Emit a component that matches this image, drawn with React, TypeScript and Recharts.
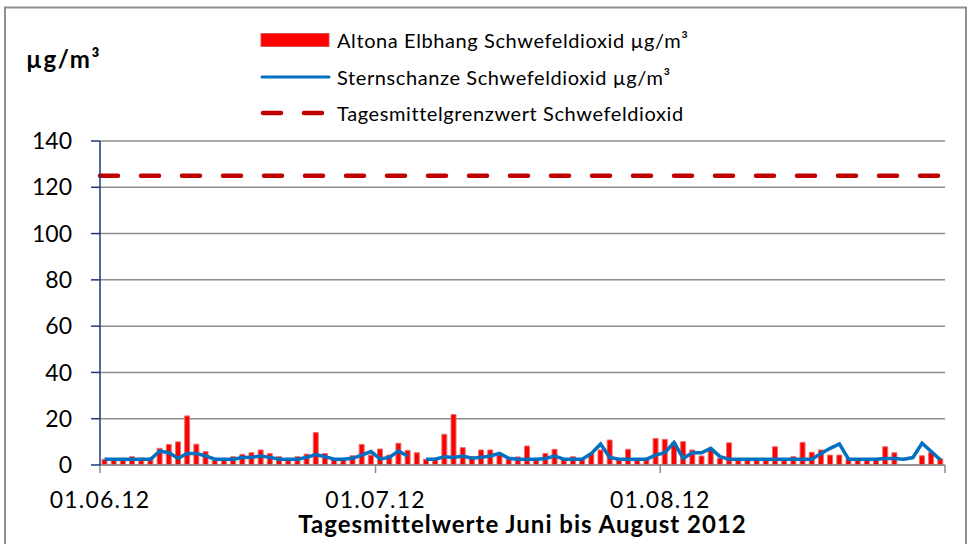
import React from "react";
import {
  ComposedChart,
  Bar,
  Line,
  XAxis,
  YAxis,
  CartesianGrid,
  ReferenceLine,
} from "recharts";

// Day index 0 = 01.06.2012 ... 91 = 31.08.2012
const altonaElbhang: (number | null)[] = [
  2.5, 2, 2, 3.6, 3, 3, 7.2, 8.9, 10, 21.2,
  9, 5.8, 2, 2, 3.6, 4.6, 5.3, 6.5, 5, 3.6,
  2, 3.6, 4.7, 14, 5, 2.5, 2.5, 4, 8.9, 4.3,
  6.9, 4.3, 9.4, 6.3, 5.3, 2.5, 2.5, 13.3, 21.8, 7.5,
  3.6, 6.5, 6.5, 4.3, 2.5, 3.5, 8.2, 2.5, 5, 6.8,
  2.5, 3.6, 2.5, 5, 6.5, 10.8, 2.5, 6.8, 2.5, 2.5,
  11.5, 11.1, 9.7, 10.1, 6.5, 3.9, 7.2, 2.9, 9.6, 2.5,
  2.5, 2.5, 2.5, 7.9, 2.5, 3.6, 9.8, 5.5, 6.5, 4.3,
  4.3, 2.5, 2.5, 2.5, 2.5, 7.9, 5.3, null, null, 4,
  5.4, 2.7,
];

const sternschanze: (number | null)[] = [
  2.5, 2.5, 2.5, 2.5, 2.5, 2.5, 6, 5.3, 2.9, 5,
  5, 3.9, 2.5, 2.5, 2.5, 3.2, 3.3, 3.9, 3.3, 2.5,
  2.5, 2.5, 3.3, 4.5, 3.6, 2.5, 2.5, 2.9, 4.3, 5.8,
  2.6, 3.3, 6, 3.9, null, 2.5, 2.5, 3.6, 3.2, 3.9,
  2.9, 3.3, 3.9, 5, 2.9, 2.5, 2.5, 2.5, 2.8, 3.9,
  2.5, 2.5, 2.5, 5, 9.1, 3.3, 2.5, 2.5, 2.5, 2.5,
  4.3, 5.3, 9.7, 2.9, 5.3, 5.3, 7.2, 3.6, 2.5, 2.5,
  2.5, 2.5, 2.5, 2.5, 2.5, 2.5, 2.5, 2.5, 5, 7.2,
  9.1, 2.5, 2.5, 2.5, 2.5, 2.8, 2.8, 2.5, 3.2, 9.4,
  5.8, 2.2,
];

const limitValue = 125;

const xTickPositions = [0, 30, 61, 92];
const xTickLabels = ["01.06.12", "01.07.12", "01.08.12", ""];
const yTicks = [0, 20, 40, 60, 80, 100, 120, 140];

const seriesNames = [
  "Altona Elbhang Schwefeldioxid µg/m³",
  "Sternschanze Schwefeldioxid µg/m³",
  "Tagesmittelgrenzwert Schwefeldioxid",
];

const data = altonaElbhang.map((v, i) => ({
  day: i + 0.5,
  altona: v,
  stern: sternschanze[i],
}));

const FONT = "Lato, 'Open Sans', sans-serif";
const GRID = "#8c8c8c";
const NAVY = "#1f3580";
const RED = "#ff0000";
const BLUE = "#0070c0";
const DARKRED = "#c00000";

export default function App() {
  return (
    <div
      style={{
        position: "absolute",
        left: 0,
        top: 0,
        width: 969,
        height: 544,
        overflow: "hidden",
        background: "#fff",
        fontFamily: FONT,
      }}
    >
      <div style={{ position: "absolute", left: 0, top: 0 }}>
        <ComposedChart
          width={969}
          height={544}
          data={data}
          margin={{ top: 141, right: 24, bottom: 49, left: 0 }}
        >
          <CartesianGrid
            horizontal
            vertical={false}
            stroke={GRID}
            strokeWidth={1.5}
          />
          <XAxis
            dataKey="day"
            type="number"
            domain={[0, 92]}
            ticks={xTickPositions}
            tickFormatter={(v: number) => xTickLabels[xTickPositions.indexOf(v)] ?? ""}
            interval={0}
            height={30}
            axisLine={{ stroke: GRID, strokeWidth: 1.5 }}
            tickLine={{ stroke: GRID, strokeWidth: 1.5 }}
            tickSize={8}
            tickMargin={19}
            tick={{ fill: "#000", fontSize: 23, fontFamily: FONT, letterSpacing: 1.2 }}
            allowDataOverflow
          />
          <YAxis
            type="number"
            domain={[0, 140]}
            ticks={yTicks}
            interval={0}
            width={100}
            axisLine={{ stroke: NAVY, strokeWidth: 1.5 }}
            tickLine={{ stroke: NAVY, strokeWidth: 1.5 }}
            tickSize={9}
            tickMargin={19}
            tick={{ fill: "#000", fontSize: 23, fontFamily: FONT }}
          />
          <ReferenceLine
            y={limitValue}
            stroke={DARKRED}
            strokeWidth={4.5}
            strokeDasharray="18 23"
            strokeLinecap="round"
          />
          <Bar
            dataKey="altona"
            fill={RED}
            stroke="#e57373"
            strokeWidth={1}
            barSize={5}
            isAnimationActive={false}
          />
          <Line
            dataKey="stern"
            type="linear"
            stroke={BLUE}
            strokeWidth={3.5}
            dot={false}
            activeDot={false}
            connectNulls={false}
            isAnimationActive={false}
          />
        </ComposedChart>
      </div>

      {/* outer frame */}
      <svg
        width={969}
        height={544}
        style={{ position: "absolute", left: 0, top: 0, pointerEvents: "none" }}
      >
        <rect
          x={5}
          y={7.5}
          width={961}
          height={600}
          fill="none"
          stroke="#8f8f8f"
          strokeWidth={2}
        />
      </svg>

      {/* unit label */}
      <div
        style={{
          position: "absolute",
          left: 26,
          top: 45,
          fontSize: 24,
          fontWeight: 700,
          letterSpacing: 1.6,
          lineHeight: "28px",
          color: "#000",
        }}
      >
        µg/m³
      </div>

      {/* legend */}
      {seriesNames.map((name, i) => {
        const cy = [39.5, 76.5, 113][i];
        return (
          <div key={name}>
            <svg
              style={{ position: "absolute", left: 258, top: cy - 10 }}
              width={76}
              height={20}
            >
              {i === 0 && (
                <rect x={3} y={3.5} width={68} height={13} fill={RED} stroke="#d9534f" strokeWidth={1} />
              )}
              {i === 1 && (
                <line x1={4} x2={71} y1={10} y2={10} stroke={BLUE} strokeWidth={3} strokeLinecap="round" />
              )}
              {i === 2 && (
                <line
                  x1={5}
                  x2={71}
                  y1={10}
                  y2={10}
                  stroke={DARKRED}
                  strokeWidth={4.5}
                  strokeDasharray="18 23"
                  strokeLinecap="round"
                />
              )}
            </svg>
            <div
              style={{
                position: "absolute",
                left: 337,
                top: cy - 14,
                fontSize: 20,
                letterSpacing: 0.6,
                lineHeight: "28px",
                color: "#000",
                whiteSpace: "nowrap",
              }}
            >
              {name}
            </div>
          </div>
        );
      })}

      {/* x axis title */}
      <div
        style={{
          position: "absolute",
          left: 100,
          width: 845,
          top: 514,
          textAlign: "center",
          fontSize: 24,
          fontWeight: 700,
          letterSpacing: 1,
          lineHeight: "20px",
          color: "#000",
          whiteSpace: "nowrap",
        }}
      >
        Tagesmittelwerte Juni bis August 2012
      </div>
    </div>
  );
}
